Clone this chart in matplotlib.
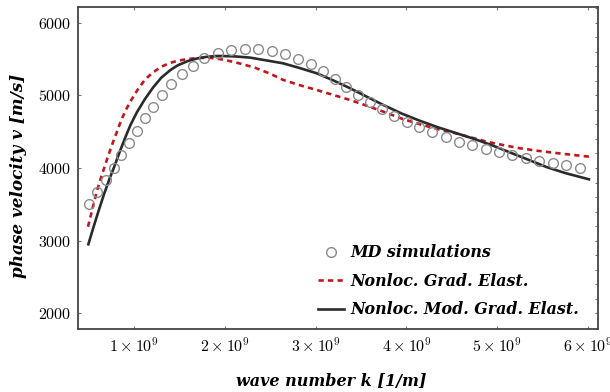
import matplotlib
matplotlib.use("Agg")
import matplotlib.pyplot as plt
from matplotlib.lines import Line2D
from matplotlib.ticker import MultipleLocator

plt.rcParams['mathtext.fontset'] = 'cm'

# ---- data (wave number in 1e9 1/m, phase velocity in m/s) ----
md_k = [0.504, 0.593, 0.692, 0.780, 0.857, 0.945, 1.033, 1.121, 1.209, 1.308,
        1.407, 1.529, 1.650, 1.771, 1.925, 2.068, 2.222, 2.366, 2.520, 2.663,
        2.806, 2.949, 3.081, 3.214, 3.335, 3.467, 3.599, 3.731, 3.863, 4.007,
        4.139, 4.282, 4.436, 4.579, 4.722, 4.877, 5.020, 5.163, 5.317, 5.460,
        5.614, 5.758, 5.912]
md_v = [3503, 3669, 3834, 4000, 4179, 4345, 4510, 4690, 4841, 5007,
        5159, 5297, 5407, 5517, 5586, 5628, 5641, 5637, 5609, 5572,
        5503, 5430, 5333, 5231, 5121, 5007, 4910, 4810, 4722, 4639,
        4570, 4501, 4428, 4364, 4318, 4262, 4221, 4179, 4134, 4101,
        4065, 4037, 3996]

grad_k = [0.493, 0.548, 0.59, 0.64, 0.70, 0.75, 0.80, 0.86, 0.91, 0.97,
          1.04, 1.118, 1.20, 1.30, 1.40, 1.485, 1.58, 1.668, 1.76, 1.851,
          1.94, 2.035, 2.12, 2.20, 2.329, 2.50, 2.644, 2.83, 3.012, 3.20,
          3.379, 3.56, 3.746, 3.95, 4.15, 4.33, 4.516, 4.70, 4.884, 5.07,
          5.251, 5.43, 5.618, 5.80, 6.011]
grad_v = [3190, 3466, 3680, 3880, 4110, 4294, 4460, 4662, 4800, 4938,
          5080, 5214, 5310, 5397, 5450, 5480, 5500, 5513, 5520, 5517,
          5503, 5480, 5455, 5430, 5384, 5300, 5214, 5140, 5076, 5005,
          4938, 4860, 4777, 4680, 4603, 4540, 4487, 4425, 4363, 4315,
          4272, 4240, 4211, 4185, 4156]

mod_k = [0.497, 0.55, 0.61, 0.67, 0.73, 0.78, 0.84, 0.90, 0.96, 1.03,
         1.12, 1.21, 1.30, 1.40, 1.485, 1.60, 1.70, 1.81, 1.925, 2.10,
         2.278, 2.45, 2.64, 2.82, 3.012, 3.20, 3.379, 3.56, 3.746, 3.95,
         4.15, 4.35, 4.55, 4.75, 4.95, 5.15, 5.35, 5.55, 5.75, 6.01]
mod_v = [2948, 3170, 3410, 3640, 3850, 4010, 4215, 4410, 4590, 4765,
         4950, 5110, 5245, 5350, 5418, 5478, 5512, 5535, 5545, 5540,
         5522, 5485, 5444, 5380, 5306, 5205, 5100, 4985, 4869, 4750,
         4650, 4560, 4480, 4400, 4310, 4210, 4110, 4010, 3930, 3844]

x_ticks = [1e9, 2e9, 3e9, 4e9, 5e9, 6e9]
x_tick_labels = [r'$\mathbf{1\times10^{9}}$', r'$\mathbf{2\times10^{9}}$',
                 r'$\mathbf{3\times10^{9}}$', r'$\mathbf{4\times10^{9}}$',
                 r'$\mathbf{5\times10^{9}}$', r'$\mathbf{6\times10^{9}}$']
y_ticks = [2000, 3000, 4000, 5000, 6000]
y_tick_labels = [r'$\mathbf{2000}$', r'$\mathbf{3000}$', r'$\mathbf{4000}$',
                 r'$\mathbf{5000}$', r'$\mathbf{6000}$']

labels = ['MD simulations', 'Nonloc. Grad. Elast.', 'Nonloc. Mod. Grad. Elast.']

# ---- figure ----
fig = plt.figure(figsize=(6.10, 3.92), dpi=100)
ax = fig.add_axes([78/610, 63/392, 520/610, 322/392])

scale = 1e9
ax.plot([k*scale for k in md_k], md_v, linestyle='none', marker='o',
        markersize=7, markerfacecolor='none', markeredgecolor='#8a8a8a',
        markeredgewidth=1.0, zorder=3)
ax.plot([k*scale for k in grad_k], grad_v, color='#c3161c', linewidth=1.9,
        dashes=(2.0, 1.6), zorder=2)
ax.plot([k*scale for k in mod_k], mod_v, color='#2b2b2b', linewidth=1.9,
        zorder=2)

ax.set_xlim(0.383e9, 6.11e9)
ax.set_ylim(1780, 6220)

ax.set_xticks(x_ticks)
ax.set_xticklabels(x_tick_labels, fontsize=11.5)
ax.set_yticks(y_ticks)
ax.set_yticklabels(y_tick_labels, fontsize=11.5)
ax.yaxis.set_minor_locator(MultipleLocator(200))

ax.tick_params(which='major', direction='in', length=2.5, width=0.8,
               color='#777777', top=True, right=True, pad=5)
ax.tick_params(which='minor', direction='in', length=2.0, width=0.7,
               color='#777777', left=False, right=True)

for sp in ax.spines.values():
    sp.set_color('#444444')
    sp.set_linewidth(1.3)

ax.set_xlabel('wave number k [1/m]', family='DejaVu Serif', weight='bold',
              style='italic', size=11.5)
ax.set_ylabel('phase velocity v [m/s]', family='DejaVu Serif', weight='bold',
              style='italic', size=12.2)
ax.xaxis.set_label_coords(0.4865, -0.138)
ax.yaxis.set_label_coords(-0.098, 0.475)

handles = [
    Line2D([], [], linestyle='none', marker='o', markersize=7,
           markerfacecolor='none', markeredgecolor='#8a8a8a', markeredgewidth=1.0),
    Line2D([], [], color='#c3161c', linewidth=1.9, dashes=(2.0, 1.6)),
    Line2D([], [], color='#2b2b2b', linewidth=1.9),
]
leg = ax.legend(handles, labels, loc='upper left',
                bbox_to_anchor=(234/520, 1 - (238-7)/322),
                frameon=False, handlelength=1.6, handletextpad=0.45,
                labelspacing=0.72, borderaxespad=0,
                prop=dict(family='DejaVu Serif', weight='bold', style='italic', size=11.4))

fig.savefig('out.png', dpi=100)
